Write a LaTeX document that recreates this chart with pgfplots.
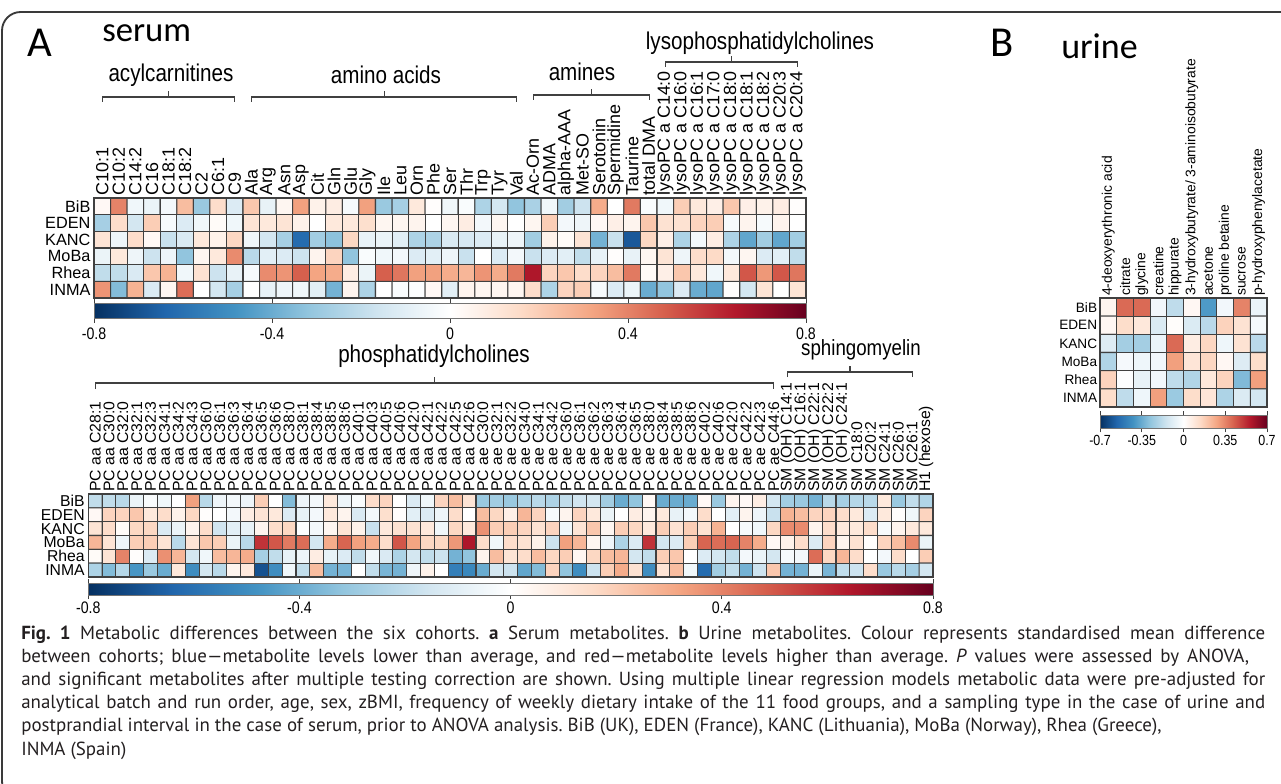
\documentclass[border=0pt]{standalone}
\usepackage{pgfplots}
\pgfplotsset{compat=1.18}
\usepackage{fontspec}
\setmainfont{Liberation Sans}
\newfontfamily\tallfont[FakeStretch=1.02]{Liberation Sans}
\newfontfamily\narrowfont[FakeStretch=0.85]{Liberation Sans}
\newfontfamily\panelfont{Carlito}
\newfontfamily\capfont{PT Sans}
\definecolor{boxline}{HTML}{3A3A3A}
\definecolor{captext}{HTML}{231F20}
\definecolor{cellline}{HTML}{404040}
\frenchspacing

\pgfplotsset{
  colormap={rdbu}{rgb255=(5,48,97) rgb255=(33,102,172) rgb255=(67,147,195)
    rgb255=(146,197,222) rgb255=(209,229,240) rgb255=(255,255,255)
    rgb255=(253,219,199) rgb255=(244,165,130) rgb255=(214,96,77)
    rgb255=(178,24,43) rgb255=(103,0,31)},
  heatmap/.style={
    scale only axis, anchor=north west,
    y dir=reverse, ymin=-0.5, ymax=5.5, ytick={0,...,5},
    yticklabels={BiB,EDEN,KANC,MoBa,Rhea,INMA},
    xticklabel pos=right,
    major tick length=0pt,
    xticklabel style={rotate=90, anchor=west, inner sep=1.5pt},
    yticklabel style={anchor=east, inner sep=2.5pt},
    axis line style={cellline, line width=0.9pt},
    colormap name=rdbu,
    axis on top,
    colorbar horizontal,
  },
  cells/.style={matrix plot*, shader=faceted, faceted color=cellline,
    line width=0.8pt, point meta=explicit, mesh/cols=#1},
  cbar/.style={
    at={(parent axis.south west)}, anchor=north west,
    scale only axis,
    major tick length=3pt, tick align=outside,
    xtick style={cellline, line width=0.6pt},
    axis line style={black!55, line width=0.6pt},
  },
}

\begin{document}
\begin{tikzpicture}

% ---------------- serum: acylcarnitines, amino acids, amines, lysoPCs
\begin{axis}[heatmap,
  at={(70.5pt,-148.5pt)}, width=534pt, height=75pt,
  xmin=-0.5, xmax=42.5, xtick={0,...,42},
  xticklabels={C10:1,C10:2,C14:2,C16,C18:1,C18:2,C2,C6:1,C9,
    Ala,Arg,Asn,Asp,Cit,Gln,Glu,Gly,Ile,Leu,Orn,Phe,Ser,Thr,Trp,Tyr,Val,
    Ac-Orn,ADMA,alpha-AAA,Met-SO,Serotonin,Spermidine,Taurine,total DMA,
    lysoPC a C14:0,lysoPC a C16:0,lysoPC a C16:1,lysoPC a C17:0,lysoPC a C18:0,
    lysoPC a C18:1,lysoPC a C18:2,lysoPC a C20:3,lysoPC a C20:4},
  xticklabel style={font=\tallfont\fontsize{13.2}{13.2}\selectfont},
  yticklabel style={font=\fontsize{12.2}{12.2}\selectfont},
  point meta min=-0.8, point meta max=0.8,
  colorbar style={cbar, yshift=4.5pt, width=534pt, height=11.5pt,
    xtick={-0.8,-0.4,0,0.4,0.8}, xticklabels={-0.8,-0.4,0,0.4,0.8},
    xticklabel style={font=\narrowfont\fontsize{12.5}{12.5}\selectfont}},
]
\addplot[cells=43] coordinates {
(0,0)[0.03] (1,0)[0.40] (2,0)[-0.05] (3,0)[-0.07] (4,0)[-0.04] (5,0)[0.25] (6,0)[-0.30] (7,0)[0.15] (8,0)[-0.12] (9,0)[0.22] (10,0)[-0.08] (11,0)[0.04] (12,0)[0.33] (13,0)[0.06] (14,0)[0.08] (15,0)[-0.03] (16,0)[0.33] (17,0)[-0.30] (18,0)[-0.27] (19,0)[0.10] (20,0)[0.01] (21,0)[-0.05] (22,0)[-0.02] (23,0)[-0.25] (24,0)[-0.15] (25,0)[-0.32] (26,0)[-0.26] (27,0)[-0.05] (28,0)[-0.28] (29,0)[-0.17] (30,0)[0.30] (31,0)[0.00] (32,0)[0.42] (33,0)[-0.02] (34,0)[-0.05] (35,0)[0.20] (36,0)[0.10] (37,0)[0.07] (38,0)[0.22] (39,0)[0.07] (40,0)[0.06] (41,0)[0.08] (42,0)[0.01]
(0,1)[-0.27] (1,1)[0.15] (2,1)[-0.15] (3,1)[0.20] (4,1)[-0.03] (5,1)[-0.12] (6,1)[-0.05] (7,1)[0.02] (8,1)[-0.05] (9,1)[0.12] (10,1)[0.10] (11,1)[0.12] (12,1)[0.06] (13,1)[0.00] (14,1)[0.10] (15,1)[0.10] (16,1)[0.14] (17,1)[0.04] (18,1)[0.04] (19,1)[0.05] (20,1)[0.00] (21,1)[0.04] (22,1)[0.08] (23,1)[-0.04] (24,1)[0.04] (25,1)[0.00] (26,1)[0.04] (27,1)[0.20] (28,1)[-0.04] (29,1)[-0.06] (30,1)[0.03] (31,1)[0.07] (32,1)[0.05] (33,1)[0.22] (34,1)[0.13] (35,1)[0.13] (36,1)[0.18] (37,1)[0.20] (38,1)[-0.03] (39,1)[0.05] (40,1)[-0.03] (41,1)[0.05] (42,1)[0.00]
(0,2)[0.12] (1,2)[-0.06] (2,2)[0.15] (3,2)[0.03] (4,2)[-0.18] (5,2)[-0.13] (6,2)[0.10] (7,2)[0.06] (8,2)[0.17] (9,2)[-0.05] (10,2)[-0.15] (11,2)[-0.27] (12,2)[-0.62] (13,2)[-0.28] (14,2)[-0.33] (15,2)[0.17] (16,2)[-0.08] (17,2)[-0.07] (18,2)[-0.10] (19,2)[-0.25] (20,2)[-0.25] (21,2)[-0.13] (22,2)[-0.14] (23,2)[-0.12] (24,2)[-0.08] (25,2)[-0.06] (26,2)[-0.28] (27,2)[0.06] (28,2)[0.02] (29,2)[0.12] (30,2)[-0.38] (31,2)[-0.18] (32,2)[-0.68] (33,2)[0.17] (34,2)[0.07] (35,2)[-0.25] (36,2)[-0.04] (37,2)[0.08] (38,2)[-0.25] (39,2)[-0.42] (40,2)[-0.28] (41,2)[-0.42] (42,2)[-0.28]
(0,3)[-0.07] (1,3)[0.10] (2,3)[-0.06] (3,3)[-0.17] (4,3)[-0.06] (5,3)[-0.32] (6,3)[0.04] (7,3)[0.10] (8,3)[0.38] (9,3)[-0.22] (10,3)[-0.10] (11,3)[-0.12] (12,3)[-0.17] (13,3)[0.05] (14,3)[0.18] (15,3)[-0.32] (16,3)[-0.02] (17,3)[-0.05] (18,3)[-0.04] (19,3)[-0.12] (20,3)[-0.10] (21,3)[-0.06] (22,3)[-0.18] (23,3)[0.00] (24,3)[-0.12] (25,3)[-0.04] (26,3)[-0.18] (27,3)[-0.12] (28,3)[-0.10] (29,3)[-0.20] (30,3)[-0.08] (31,3)[0.01] (32,3)[-0.08] (33,3)[0.04] (34,3)[0.12] (35,3)[-0.06] (36,3)[0.15] (37,3)[0.16] (38,3)[-0.04] (39,3)[0.04] (40,3)[-0.12] (41,3)[-0.10] (42,3)[-0.20]
(0,4)[-0.20] (1,4)[-0.20] (2,4)[-0.13] (3,4)[0.22] (4,4)[0.28] (5,4)[-0.05] (6,4)[0.13] (7,4)[-0.17] (8,4)[-0.08] (9,4)[-0.03] (10,4)[0.38] (11,4)[0.36] (12,4)[0.48] (13,4)[0.32] (14,4)[0.30] (15,4)[0.08] (16,4)[-0.07] (17,4)[0.48] (18,4)[0.43] (19,4)[0.33] (20,4)[0.33] (21,4)[0.30] (22,4)[0.27] (23,4)[0.36] (24,4)[0.30] (25,4)[0.42] (26,4)[0.65] (27,4)[0.18] (28,4)[0.22] (29,4)[0.15] (30,4)[0.18] (31,4)[0.25] (32,4)[0.42] (33,4)[0.02] (34,4)[0.07] (35,4)[0.22] (36,4)[0.10] (37,4)[-0.05] (38,4)[0.10] (39,4)[0.50] (40,4)[0.35] (41,4)[0.50] (42,4)[0.43]
(0,5)[0.36] (1,5)[-0.35] (2,5)[0.28] (3,5)[-0.13] (4,5)[0.04] (5,5)[0.45] (6,5)[0.00] (7,5)[-0.15] (8,5)[-0.27] (9,5)[0.00] (10,5)[-0.08] (11,5)[-0.06] (12,5)[-0.05] (13,5)[-0.10] (14,5)[-0.38] (15,5)[0.05] (16,5)[-0.25] (17,5)[0.00] (18,5)[-0.02] (19,5)[-0.01] (20,5)[0.03] (21,5)[-0.10] (22,5)[0.05] (23,5)[0.04] (24,5)[0.04] (25,5)[0.04] (26,5)[0.15] (27,5)[-0.25] (28,5)[0.18] (29,5)[0.20] (30,5)[-0.03] (31,5)[-0.12] (32,5)[-0.07] (33,5)[-0.40] (34,5)[-0.32] (35,5)[-0.12] (36,5)[-0.40] (37,5)[-0.42] (38,5)[0.01] (39,5)[-0.15] (40,5)[0.12] (41,5)[0.00] (42,5)[0.12]
};
\end{axis}

% ---------------- serum: phosphatidylcholines, sphingomyelins, hexose
\begin{axis}[heatmap,
  at={(66.2pt,-370.5pt)}, width=633.5pt, height=62.25pt,
  xmin=-0.5, xmax=60.5, xtick={0,...,60},
  xticklabels={PC aa C28:1,PC aa C30:0,PC aa C32:0,PC aa C32:1,PC aa C32:3,
    PC aa C34:1,PC aa C34:2,PC aa C34:3,PC aa C36:0,PC aa C36:1,PC aa C36:3,
    PC aa C36:4,PC aa C36:5,PC aa C36:6,PC aa C38:0,PC aa C38:1,PC aa C38:4,
    PC aa C38:5,PC aa C38:6,PC aa C40:1,PC aa C40:3,PC aa C40:5,PC aa C40:6,
    PC aa C42:0,PC aa C42:1,PC aa C42:2,PC aa C42:5,PC aa C42:6,
    PC ae C30:0,PC ae C32:1,PC ae C32:2,PC ae C34:0,PC ae C34:1,PC ae C34:2,
    PC ae C36:0,PC ae C36:1,PC ae C36:2,PC ae C36:3,PC ae C36:4,PC ae C36:5,
    PC ae C38:0,PC ae C38:4,PC ae C38:5,PC ae C38:6,PC ae C40:2,PC ae C40:6,
    PC ae C42:0,PC ae C42:2,PC ae C42:3,PC ae C44:6,
    SM (OH) C14:1,SM (OH) C16:1,SM (OH) C22:1,SM (OH) C22:2,SM (OH) C24:1,
    SM C18:0,SM C20:2,SM C24:1,SM C26:0,SM C26:1,H1 (hexose)},
  xticklabel style={font=\tallfont\fontsize{11.6}{11.6}\selectfont},
  yticklabel style={font=\fontsize{11.8}{11.8}\selectfont},
  point meta min=-0.8, point meta max=0.8,
  colorbar style={cbar, yshift=4pt, width=633.5pt, height=9pt,
    xtick={-0.8,-0.4,0,0.4,0.8}, xticklabels={-0.8,-0.4,0,0.4,0.8},
    xticklabel style={font=\narrowfont\fontsize{12.5}{12.5}\selectfont, inner sep=2pt}},
]
\addplot[cells=61] coordinates {
(0,0)[-0.20] (1,0)[-0.20] (2,0)[-0.22] (3,0)[-0.07] (4,0)[-0.02] (5,0)[-0.05] (6,0)[0.00] (7,0)[0.33] (8,0)[-0.22] (9,0)[-0.06] (10,0)[-0.04] (11,0)[-0.06] (12,0)[0.20] (13,0)[0.00] (14,0)[-0.35] (15,0)[-0.06] (16,0)[-0.04] (17,0)[0.10] (18,0)[-0.06] (19,0)[-0.02] (20,0)[0.15] (21,0)[0.18] (22,0)[0.00] (23,0)[-0.12] (24,0)[-0.05] (25,0)[0.18] (26,0)[0.25] (27,0)[0.12] (28,0)[-0.30] (29,0)[-0.28] (30,0)[-0.30] (31,0)[-0.25] (32,0)[-0.22] (33,0)[-0.25] (34,0)[-0.20] (35,0)[-0.16] (36,0)[-0.15] (37,0)[-0.28] (38,0)[-0.40] (39,0)[-0.32] (40,0)[0.03] (41,0)[-0.40] (42,0)[-0.40] (43,0)[-0.40] (44,0)[0.03] (45,0)[-0.30] (46,0)[0.05] (47,0)[0.03] (48,0)[0.08] (49,0)[-0.15] (50,0)[-0.28] (51,0)[-0.30] (52,0)[-0.38] (53,0)[-0.22] (54,0)[-0.27] (55,0)[-0.23] (56,0)[-0.22] (57,0)[0.10] (58,0)[-0.30] (59,0)[-0.20] (60,0)[-0.24]
(0,1)[0.03] (1,1)[0.18] (2,1)[0.18] (3,1)[0.22] (4,1)[0.10] (5,1)[0.15] (6,1)[0.06] (7,1)[0.17] (8,1)[0.01] (9,1)[0.00] (10,1)[-0.04] (11,1)[0.08] (12,1)[0.12] (13,1)[0.10] (14,1)[-0.12] (15,1)[-0.08] (16,1)[-0.04] (17,1)[0.10] (18,1)[0.05] (19,1)[-0.13] (20,1)[-0.04] (21,1)[0.14] (22,1)[0.01] (23,1)[-0.10] (24,1)[-0.12] (25,1)[-0.06] (26,1)[0.15] (27,1)[0.00] (28,1)[0.25] (29,1)[0.17] (30,1)[0.07] (31,1)[0.27] (32,1)[0.18] (33,1)[-0.03] (34,1)[0.05] (35,1)[0.18] (36,1)[0.10] (37,1)[-0.07] (38,1)[0.00] (39,1)[0.08] (40,1)[0.05] (41,1)[0.10] (42,1)[-0.08] (43,1)[-0.04] (44,1)[0.15] (45,1)[0.00] (46,1)[-0.10] (47,1)[0.05] (48,1)[-0.06] (49,1)[-0.18] (50,1)[0.28] (51,1)[0.25] (52,1)[0.18] (53,1)[0.18] (54,1)[0.15] (55,1)[0.10] (56,1)[-0.12] (57,1)[0.10] (58,1)[0.01] (59,1)[-0.05] (60,1)[0.18]
(0,2)[0.12] (1,2)[0.15] (2,2)[0.02] (3,2)[0.17] (4,2)[0.17] (5,2)[-0.13] (6,2)[-0.07] (7,2)[0.05] (8,2)[0.15] (9,2)[-0.16] (10,2)[-0.10] (11,2)[-0.08] (12,2)[0.05] (13,2)[0.15] (14,2)[0.17] (15,2)[-0.01] (16,2)[-0.04] (17,2)[0.04] (18,2)[0.12] (19,2)[0.06] (20,2)[-0.18] (21,2)[0.10] (22,2)[0.13] (23,2)[0.13] (24,2)[0.10] (25,2)[-0.05] (26,2)[0.17] (27,2)[0.10] (28,2)[0.37] (29,2)[0.20] (30,2)[0.20] (31,2)[0.18] (32,2)[0.13] (33,2)[0.18] (34,2)[-0.05] (35,2)[0.12] (36,2)[0.22] (37,2)[0.04] (38,2)[0.20] (39,2)[0.17] (40,2)[0.10] (41,2)[0.20] (42,2)[0.13] (43,2)[0.20] (44,2)[0.13] (45,2)[0.28] (46,2)[0.00] (47,2)[-0.03] (48,2)[-0.05] (49,2)[0.17] (50,2)[0.38] (51,2)[0.38] (52,2)[0.05] (53,2)[0.15] (54,2)[0.10] (55,2)[0.10] (56,2)[0.15] (57,2)[-0.03] (58,2)[0.05] (59,2)[0.10] (60,2)[0.10]
(0,3)[0.27] (1,3)[0.12] (2,3)[-0.06] (3,3)[0.20] (4,3)[0.20] (5,3)[0.12] (6,3)[-0.22] (7,3)[0.12] (8,3)[0.22] (9,3)[0.20] (10,3)[-0.07] (11,3)[-0.22] (12,3)[0.58] (13,3)[0.50] (14,3)[0.42] (15,3)[0.45] (16,3)[-0.15] (17,3)[0.30] (18,3)[0.47] (19,3)[0.33] (20,3)[0.30] (21,3)[0.15] (22,3)[0.50] (23,3)[0.32] (24,3)[0.17] (25,3)[0.17] (26,3)[0.35] (27,3)[0.65] (28,3)[0.15] (29,3)[-0.05] (30,3)[0.15] (31,3)[0.13] (32,3)[0.06] (33,3)[-0.17] (34,3)[0.33] (35,3)[0.27] (36,3)[0.04] (37,3)[-0.06] (38,3)[-0.25] (39,3)[-0.12] (40,3)[0.58] (41,3)[-0.15] (42,3)[-0.12] (43,3)[0.20] (44,3)[0.47] (45,3)[0.45] (46,3)[0.47] (47,3)[0.40] (48,3)[0.30] (49,3)[0.03] (50,3)[0.06] (51,3)[0.15] (52,3)[-0.12] (53,3)[0.18] (54,3)[0.05] (55,3)[0.13] (56,3)[0.01] (57,3)[0.18] (58,3)[0.25] (59,3)[0.38] (60,3)[-0.07]
(0,4)[0.02] (1,4)[0.12] (2,4)[0.40] (3,4)[0.01] (4,4)[-0.12] (5,4)[0.37] (6,4)[0.27] (7,4)[-0.15] (8,4)[-0.05] (9,4)[0.25] (10,4)[0.27] (11,4)[0.30] (12,4)[-0.27] (13,4)[-0.20] (14,4)[-0.08] (15,4)[-0.06] (16,4)[0.08] (17,4)[-0.08] (18,4)[-0.12] (19,4)[-0.20] (20,4)[-0.05] (21,4)[-0.13] (22,4)[-0.25] (23,4)[-0.15] (24,4)[-0.20] (25,4)[-0.17] (26,4)[-0.38] (27,4)[-0.32] (28,4)[0.05] (29,4)[0.25] (30,4)[0.12] (31,4)[0.15] (32,4)[0.25] (33,4)[0.17] (34,4)[0.20] (35,4)[0.04] (36,4)[0.17] (37,4)[0.25] (38,4)[0.27] (39,4)[-0.15] (40,4)[-0.20] (41,4)[0.20] (42,4)[0.22] (43,4)[0.00] (44,4)[-0.12] (45,4)[-0.15] (46,4)[-0.20] (47,4)[-0.04] (48,4)[-0.07] (49,4)[-0.15] (50,4)[-0.03] (51,4)[-0.04] (52,4)[0.45] (53,4)[0.17] (54,4)[0.27] (55,4)[0.15] (56,4)[0.00] (57,4)[-0.04] (58,4)[0.15] (59,4)[0.00] (60,4)[0.20]
(0,5)[-0.25] (1,5)[-0.35] (2,5)[-0.23] (3,5)[-0.47] (4,5)[-0.30] (5,5)[-0.40] (6,5)[0.10] (7,5)[-0.50] (8,5)[-0.15] (9,5)[-0.22] (10,5)[0.05] (11,5)[0.10] (12,5)[-0.70] (13,5)[-0.50] (14,5)[-0.05] (15,5)[-0.20] (16,5)[0.25] (17,5)[-0.38] (18,5)[-0.37] (19,5)[0.00] (20,5)[-0.20] (21,5)[-0.37] (22,5)[-0.38] (23,5)[-0.06] (24,5)[0.06] (25,5)[0.00] (26,5)[-0.55] (27,5)[-0.52] (28,5)[-0.40] (29,5)[-0.15] (30,5)[-0.17] (31,5)[-0.42] (32,5)[-0.35] (33,5)[0.18] (34,5)[-0.32] (35,5)[-0.50] (36,5)[-0.17] (37,5)[0.20] (38,5)[0.30] (39,5)[0.13] (40,5)[-0.50] (41,5)[0.12] (42,5)[0.25] (43,5)[-0.05] (44,5)[-0.62] (45,5)[-0.28] (46,5)[-0.20] (47,5)[-0.38] (48,5)[-0.17] (49,5)[0.22] (50,5)[-0.38] (51,5)[-0.38] (52,5)[-0.07] (53,5)[-0.37] (54,5)[-0.20] (55,5)[-0.17] (56,5)[0.15] (57,5)[-0.30] (58,5)[-0.22] (59,5)[-0.27] (60,5)[-0.15]
};
\end{axis}

% ---------------- urine
\begin{axis}[heatmap,
  at={(825pt,-223.5pt)}, width=125.25pt, height=81.75pt,
  xmin=-0.5, xmax=9.5, xtick={0,...,9},
  xticklabels={4-deoxyerythronic acid,citrate,glycine,creatine,hippurate,
    3-hydroxybutyrate/ 3-aminoisobutyrate,acetone,proline betaine,sucrose,
    p-hydroxyphenylacetate},
  xticklabel style={font=\fontsize{10.4}{10.4}\selectfont},
  yticklabel style={font=\fontsize{10.2}{10.2}\selectfont, inner sep=2pt},
  point meta min=-0.7, point meta max=0.7,
  colorbar style={cbar, yshift=2.25pt, width=125.25pt, height=9.75pt,
    xtick={-0.7,-0.35,0,0.35,0.7}, xticklabels={-0.7,-0.35,0,0.35,0.7},
    xticklabel style={font=\narrowfont\fontsize{11}{11}\selectfont, inner sep=2pt}},
]
\addplot[cells=10] coordinates {
(0,0)[0.04] (1,0)[0.40] (2,0)[0.40] (3,0)[-0.04] (4,0)[-0.18] (5,0)[0.03] (6,0)[-0.40] (7,0)[-0.04] (8,0)[0.35] (9,0)[-0.06]
(0,1)[0.03] (1,1)[0.13] (2,1)[0.09] (3,1)[-0.11] (4,1)[0.01] (5,1)[-0.11] (6,1)[-0.19] (7,1)[0.16] (8,1)[0.11] (9,1)[-0.03]
(0,2)[-0.10] (1,2)[-0.24] (2,2)[-0.24] (3,2)[-0.06] (4,2)[0.40] (5,2)[0.07] (6,2)[0.15] (7,2)[-0.05] (8,2)[0.11] (9,2)[-0.19]
(0,3)[-0.21] (1,3)[-0.03] (2,3)[-0.05] (3,3)[-0.04] (4,3)[0.29] (5,3)[0.10] (6,3)[0.15] (7,3)[0.03] (8,3)[-0.10] (9,3)[0.13]
(0,4)[0.16] (1,4)[-0.01] (2,4)[-0.07] (3,4)[-0.04] (4,4)[-0.18] (5,4)[-0.21] (6,4)[0.09] (7,4)[0.16] (8,4)[-0.31] (9,4)[0.29]
(0,5)[0.13] (1,5)[-0.18] (2,5)[-0.05] (3,5)[0.29] (4,5)[-0.26] (5,5)[0.13] (6,5)[0.10] (7,5)[-0.22] (8,5)[-0.11] (9,5)[-0.13]
};
\end{axis}

% ---------------- frame, panel titles, group brackets, caption
\begin{scope}[x=0.75pt, y=-0.75pt]
\path[use as bounding box] (0,0) rectangle (1281,784);
\draw[boxline, line width=1.4pt, rounded corners=14pt] (2,12) rectangle (1300,800);

\node[anchor=center, font=\panelfont\fontsize{32}{32}\selectfont] at (40,43) {A};
\node[anchor=west, font=\panelfont\fontsize{26}{26}\selectfont, inner sep=0] at (102,33) {serum};
\node[anchor=center, font=\panelfont\fontsize{32}{32}\selectfont] at (1002,43) {B};
\node[anchor=west, font=\panelfont\fontsize{27}{27}\selectfont, inner sep=0] at (1061,46) {urine};

\begin{scope}[cellline, line width=0.8pt]
  \draw (102.3,102) -- (102.3,97) -- (234.8,97) -- (234.8,102);
  \draw (168.5,97) -- (168.5,91);
  \draw (251.6,102) -- (251.6,97) -- (516.6,97) -- (516.6,102);
  \draw (384.1,97) -- (384.1,91);
  \draw (533.2,100) -- (533.2,95) -- (649.1,95) -- (649.1,100);
  \draw (591.2,95) -- (591.2,89);
  \draw (665.3,67) -- (665.3,62) -- (797.8,62) -- (797.8,67);
  \draw (731.5,62) -- (731.5,56);
  \draw (95.2,389) -- (95.2,383) -- (773.9,383) -- (773.9,389);
  \draw (434.5,383) -- (434.5,377);
  \draw (787.7,377) -- (787.7,372) -- (912.4,372) -- (912.4,377);
  \draw (850,372) -- (850,366);
\end{scope}
\begin{scope}[font=\narrowfont\fontsize{18.2}{18.2}\selectfont, anchor=center]
  \node at (171,75) {acylcarnitines};
  \node at (386,75) {amino acids};
  \node at (582,72) {amines};
  \node at (760,43) {lysophosphatidylcholines};
  \node at (434,356) {phosphatidylcholines};
  \node[font=\narrowfont\fontsize{16.5}{16.5}\selectfont] at (861,350) {sphingomyelin};
\end{scope}

\begin{scope}[captext, font=\capfont\fontsize{14.2}{14.2}\selectfont, anchor=west, inner sep=0]
  \node at (21,635) {\makebox[933pt][s]{\textbf{Fig. 1} Metabolic differences between the six cohorts. \textbf{a} Serum metabolites. \textbf{b} Urine metabolites. Colour represents standardised mean difference}};
  \node at (21,658) {\makebox[921pt][s]{between cohorts; blue—metabolite levels lower than average, and red—metabolite levels higher than average. \textit{P} values were assessed by ANOVA,}};
  \node at (21,681) {\makebox[933pt][s]{and significant metabolites after multiple testing correction are shown. Using multiple linear regression models metabolic data were pre-adjusted for}};
  \node at (21,704) {\makebox[933pt][s]{analytical batch and run order, age, sex, zBMI, frequency of weekly dietary intake of the 11 food groups, and a sampling type in the case of urine and}};
  \node at (21,727) {postprandial interval in the case of serum, prior to ANOVA analysis. BiB (UK), EDEN (France), KANC (Lithuania), MoBa (Norway), Rhea (Greece),};
  \node at (21,751) {INMA (Spain)};
\end{scope}
\end{scope}

\end{tikzpicture}
\end{document}
